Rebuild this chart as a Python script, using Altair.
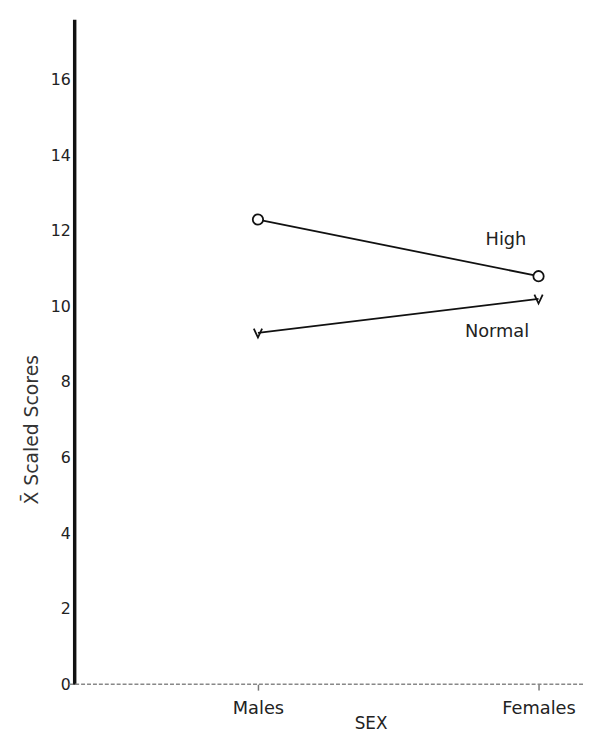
import altair as alt
import pandas as pd

categories = ["Males", "Females"]
series = ["High", "Normal"]
high_values = [12.3, 10.8]
normal_values = [9.3, 10.2]
y_ticks = [0, 2, 4, 6, 8, 10, 12, 14, 16]

rows = []
for s, vals in zip(series, [high_values, normal_values]):
    for c, v in zip(categories, vals):
        rows.append({"sex": c, "group": s, "score": v})
df = pd.DataFrame(rows)

W, H = 515, 673
FONT = "DejaVu Sans"

x_enc = alt.X(
    "sex:N",
    sort=categories,
    scale=alt.Scale(type="point", range=[186, 470], padding=0),
    axis=alt.Axis(
        title="SEX", domain=False, ticks=True, tickSize=6, tickColor="#777",
        tickWidth=1.5, labelAngle=0, labelFontSize=18, labelFont=FONT,
        labelColor="#222", labelPadding=10, titleFont=FONT, titleFontSize=17,
        titleFontWeight="normal", titleColor="#222", titleX=300, titleY=40,
        titleAlign="center", titleBaseline="middle",
    ),
)
y_enc = alt.Y(
    "score:Q",
    scale=alt.Scale(domain=[0, 17.6], nice=False, zero=True),
    axis=alt.Axis(
        title="X\u0304 Scaled Scores", values=y_ticks, grid=False, ticks=False,
        domain=True, domainColor="#111", domainWidth=3.5, labelFontSize=16,
        labelFont=FONT, labelColor="#222", labelPadding=4, titleFont=FONT,
        titleFontSize=19, titleFontWeight="normal", titleColor="#333",
        titleAngle=-90, titleX=-43, titleY=415, titleAlign="center",
        titleBaseline="middle",
    ),
)

base = alt.Chart(df)

baseline = alt.Chart(pd.DataFrame({"y": [0]})).mark_rule(
    color="#888", strokeWidth=1.5, strokeDash=[4, 2]
).encode(y=alt.Y("y:Q", scale=alt.Scale(domain=[0, 17.6], nice=False)), x=alt.value(-5), x2=alt.value(W))

lines = base.mark_line(color="#111", strokeWidth=1.8).encode(
    x=x_enc, y=y_enc, detail="group:N"
)

high_pts = base.transform_filter(alt.datum.group == "High").mark_point(
    shape="circle", filled=True, fill="white", stroke="#111", strokeWidth=1.8, size=110, opacity=1
).encode(x=alt.X("sex:N", sort=categories), y="score:Q")

normal_pts = base.transform_filter(alt.datum.group == "Normal").mark_point(
    shape="M-0.8,-0.8L0,0.9L0.8,-0.8", filled=False, stroke="#111", strokeWidth=1.8, size=110, opacity=1
).encode(x=alt.X("sex:N", sort=categories), y="score:Q")

high_lbl = base.transform_filter(
    (alt.datum.group == "High") & (alt.datum.sex == "Females")
).mark_text(font=FONT, fontSize=18, color="#222", dx=-33, dy=-37).encode(
    x=alt.X("sex:N", sort=categories), y="score:Q", text="group:N"
)
normal_lbl = base.transform_filter(
    (alt.datum.group == "Normal") & (alt.datum.sex == "Females")
).mark_text(font=FONT, fontSize=18, color="#222", dx=-42, dy=34).encode(
    x=alt.X("sex:N", sort=categories), y="score:Q", text="group:N"
)

chart = alt.layer(baseline, lines, high_pts, normal_pts, high_lbl, normal_lbl).properties(
    width=W, height=H,
    autosize=alt.AutoSizeParams(type="none"),
    padding={"left": 67, "top": 7, "right": 0, "bottom": 48},
    background="white",
).configure_view(stroke=None, strokeWidth=0)

chart.save("out.html", embed_options={"renderer": "svg", "actions": False})
